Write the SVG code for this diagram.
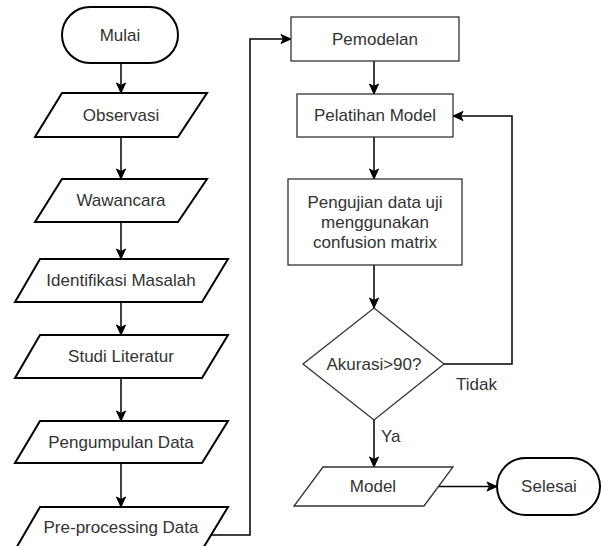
<svg xmlns="http://www.w3.org/2000/svg" width="601" height="546" viewBox="0 0 601 546">
<defs>
<style>
.thick{fill:#fff;stroke:#000;stroke-width:2}
.thin{fill:#fff;stroke:#333;stroke-width:1.3}
.lbl{font-family:"Liberation Sans",Arial,sans-serif;font-size:17px;fill:#333;text-anchor:middle;dominant-baseline:central}
.edge{fill:none;stroke:#000;stroke-width:1.5}
.elbl{font-family:"Liberation Sans",Arial,sans-serif;font-size:17px;fill:#333;dominant-baseline:central}
</style>
<marker id="ah" markerUnits="userSpaceOnUse" markerWidth="12" markerHeight="12" viewBox="0 0 12 12" refX="11" refY="6" orient="auto">
<path d="M1,1.5 L11,6 L1,10.5 L3.5,6 Z" fill="#000" stroke="#000" stroke-width="1"/>
</marker>
</defs>
<rect width="601" height="546" fill="#fff"/>
<g id="connectors">
<path class="edge" d="M121,63 V93" marker-end="url(#ah)"/>
<path class="edge" d="M121,137 V179" marker-end="url(#ah)"/>
<path class="edge" d="M121,222 V259" marker-end="url(#ah)"/>
<path class="edge" d="M121,302 V335" marker-end="url(#ah)"/>
<path class="edge" d="M121,378 V421" marker-end="url(#ah)"/>
<path class="edge" d="M121,463 V507" marker-end="url(#ah)"/>
<path class="edge" d="M211,535 H250 V39 H291" marker-end="url(#ah)"/>
<path class="edge" d="M374,61 V94" marker-end="url(#ah)"/>
<path class="edge" d="M374,137 V179" marker-end="url(#ah)"/>
<path class="edge" d="M374,265 V308" marker-end="url(#ah)"/>
<path class="edge" d="M444,364 H512 V116 H453" marker-end="url(#ah)"/>
<path class="edge" d="M374,420 V467" marker-end="url(#ah)"/>
<path class="edge" d="M439,486.5 H497" marker-end="url(#ah)"/>
<text class="elbl" x="456" y="384">Tidak</text>
<text class="elbl" x="381" y="436">Ya</text>
</g>
<g id="mulai">
<rect class="thick" x="62" y="7" width="116" height="56" rx="28" ry="28"/>
<text class="lbl" x="120" y="35">Mulai</text>
</g>
<g id="observasi">
<polygon class="thick" points="62,93 207,93 178,137 35,137"/>
<text class="lbl" x="121" y="115">Observasi</text>
</g>
<g id="wawancara">
<polygon class="thick" points="62,179 207,179 178,222 35,222"/>
<text class="lbl" x="121" y="200.5">Wawancara</text>
</g>
<g id="identifikasi">
<polygon class="thick" points="40,259 228,259 202,302 15,302"/>
<text class="lbl" x="121" y="280.5">Identifikasi Masalah</text>
</g>
<g id="studi">
<polygon class="thick" points="40,335 228,335 202,378 15,378"/>
<text class="lbl" x="121" y="356.5">Studi Literatur</text>
</g>
<g id="pengumpulan">
<polygon class="thick" points="40,421 228,421 202,463 15,463"/>
<text class="lbl" x="121" y="442">Pengumpulan Data</text>
</g>
<g id="preprocessing">
<polygon class="thick" points="40,507 228,507 202,550 15,550"/>
<text class="lbl" x="121" y="527">Pre-processing Data</text>
</g>
<g id="pemodelan">
<rect class="thin" x="291" y="17" width="168" height="44"/>
<text class="lbl" x="375" y="39">Pemodelan</text>
</g>
<g id="pelatihan">
<rect class="thin" x="297" y="94" width="156" height="43"/>
<text class="lbl" x="375" y="115.5">Pelatihan Model</text>
</g>
<g id="pengujian">
<rect class="thin" x="288" y="179" width="174" height="86"/>
<text class="lbl" x="375" y="202">Pengujian data uji</text>
<text class="lbl" x="375" y="222">menggunakan</text>
<text class="lbl" x="375" y="242">confusion matrix</text>
</g>
<g id="akurasi">
<polygon class="thin" points="374,308 444,364 374,420 303,364"/>
<text class="lbl" x="374" y="364">Akurasi&gt;90?</text>
</g>
<g id="model">
<polygon class="thin" points="323,467 453,467 424,506 294,506"/>
<text class="lbl" x="373" y="486.5">Model</text>
</g>
<g id="selesai">
<rect class="thick" x="497" y="458" width="103" height="57" rx="28.5" ry="28.5"/>
<text class="lbl" x="549" y="486.5">Selesai</text>
</g>
</svg>
